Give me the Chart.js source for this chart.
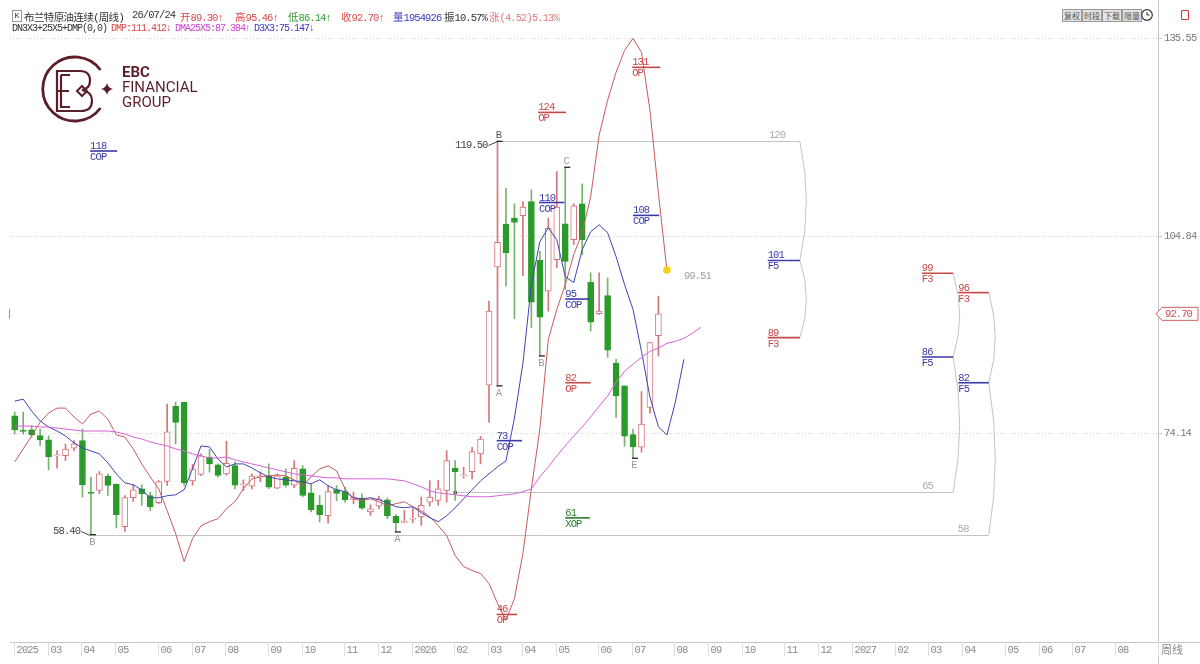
<!DOCTYPE html>
<html>
<head>
<meta charset="utf-8">
<script src="https://cdn.jsdelivr.net/npm/chart.js@4.4.1/dist/chart.umd.min.js"></script>
<style>
body{margin:0;background:#fff;}
#wrap{position:relative;width:1200px;height:664px;overflow:hidden;background:#fff;}
#c{position:absolute;left:0;top:0;}
.t{position:absolute;white-space:nowrap;font:10.5px "Liberation Mono",monospace;letter-spacing:-0.9px;line-height:13px;color:#333;}
.t.s{font-size:10px;letter-spacing:-1px;}
.t i{font:10.5px "Noto Sans CJK SC";font-style:normal;letter-spacing:0;}
.t i.n{letter-spacing:-0.6px;}
.kb{display:inline-block;width:8px;height:10px;border:1px solid #999;font-size:8px;line-height:10px;text-align:center;letter-spacing:0;}
.btn{position:absolute;top:9px;width:18px;height:11px;border:1px solid #9a9a9a;background:#e2e2e2;font:8px "Noto Sans CJK SC";line-height:11px;color:#555;text-align:center;white-space:nowrap;overflow:hidden;}
.logo{position:absolute;left:122px;color:#5b1f2b;font:15px Roboto,sans-serif;line-height:15px;}
</style>
</head>
<body>
<div id="wrap">
<canvas id="c" width="1200" height="664"></canvas>

<!-- header -->
<div class="t" style="left:12px;top:9px"><span class="kb">K</span></div>
<div class="t" style="left:24px;top:9px"><i class="n">布兰特原油连续</i>(<i class="n">周线</i>)</div>
<div class="t" style="left:132px;top:9px">26/07/24</div>
<div class="t" style="left:180px;top:9px;color:#d84a4a"><i>开</i>89.30↑</div>
<div class="t" style="left:235px;top:9px;color:#d84a4a"><i>高</i>95.46↑</div>
<div class="t" style="left:288px;top:9px;color:#2f9a2f"><i>低</i>86.14↑</div>
<div class="t" style="left:341px;top:9px;color:#d84a4a"><i>收</i>92.70↑</div>
<div class="t" style="left:393px;top:9px;color:#3a3ac0"><i>量</i>1954926</div>
<div class="t" style="left:444px;top:9px"><i>振</i>10.57%</div>
<div class="t" style="left:489px;top:9px;color:#e07a7a"><i>涨</i>(4.52)5.13%</div>
<div class="t s" style="left:12px;top:22px">DN3X3+25X5+DMP(0,0)</div>
<div class="t s" style="left:111px;top:22px;color:#d84a4a">DMP:111.412↓</div>
<div class="t s" style="left:175px;top:22px;color:#cc44cc">DMA25X5:87.384↑</div>
<div class="t s" style="left:254px;top:22px;color:#3a3ac0">D3X3:75.147↓</div>

<div class="btn" style="left:1062px">复权</div>
<div class="btn" style="left:1082px">时段</div>
<div class="btn" style="left:1102px">下载</div>
<div class="btn" style="left:1122px">限量</div>
<svg style="position:absolute;left:1140px;top:8px" width="14" height="14">
  <circle cx="7" cy="7" r="5.3" fill="none" stroke="#333" stroke-width="1.2"/>
  <path d="M7 4 V7 H9.5" fill="none" stroke="#333" stroke-width="1"/>
</svg>
<div style="position:absolute;left:1181px;top:10px;width:6px;height:8px;border:1.5px solid #d03030;border-radius:1px"></div>

<!-- logo -->
<svg style="position:absolute;left:0;top:0" width="230" height="140">
  <path d="M100.5 70 A32 32 0 1 0 100.5 108" fill="none" stroke="#5b1f2b" stroke-width="2.8"/>
  <path d="M73 71 H57 V111 H73 M57 91 H69 M61 75 H70 M61 75 V107 H70" fill="none" stroke="#5b1f2b" stroke-width="2.2"/>
  <path d="M68 71 H80 Q90 71 90 80.5 Q90 88.5 82 90 Q92 92 92 100.5 Q92 111 81 111 H68" fill="none" stroke="#5b1f2b" stroke-width="2.2"/>
  <path d="M77 91 L82 86 L87 91 L82 96 Z" fill="none" stroke="#5b1f2b" stroke-width="2"/>
  <path d="M107 83 Q108 88 113 89 Q108 90 107 95 Q106 90 101 89 Q106 88 107 83 Z" fill="#5b1f2b"/>
</svg>
<div class="logo" style="top:65px;font-weight:bold">EBC</div>
<div class="logo" style="top:80px">FINANCIAL</div>
<div class="logo" style="top:95px">GROUP</div>
</div>

<script>
// weekly candles, index 0 = 2025-02-07, last = 2026-07-24
const open  = [76.87,74.65,74.70,73.77,73.11,70.63,70.68,71.82,73.00,64.98,
               65.26,67.49,66.25,59.64,64.13,65.52,64.48,63.35,66.65,78.32,
               78.94,66.76,67.76,70.43,69.24,67.84,69.13,66.14,65.94,67.38,
               67.49,65.63,67.33,66.09,68.62,64.90,62.94,61.34,65.41,65.10,
               63.86,64.08,61.91,62.84,63.82,61.23,60.30,60.80,61.14,63.46,
               63.71,65.26,68.72,67.53,68.20,70.94,81.62,99.99,106.65,107.58,
               107.94,110.15,101.02,96.22,101.12,106.70,104.22,109.79,97.61,92.72,
               95.55,85.03,81.51,73.93,71.98,78.17,89.30];
const high  = [77.44,77.44,75.32,74.81,73.77,71.45,72.49,73.00,74.81,67.33,
               68.20,67.84,66.30,64.48,66.14,66.14,65.01,66.81,78.68,79.03,
               79.00,69.31,70.94,71.67,69.39,72.92,69.70,66.91,67.84,68.15,
               69.39,67.84,68.62,69.90,69.13,66.30,64.48,66.03,66.03,65.78,
               65.01,64.75,63.04,64.39,64.08,61.50,62.16,62.53,64.24,66.81,
               66.81,71.45,69.90,68.88,71.98,73.68,94.67,119.50,112.22,109.79,
               110.15,111.96,102.41,107.58,114.79,115.47,109.79,112.89,99.07,99.07,
               98.29,85.64,81.51,74.81,80.64,88.32,95.46];
const low   = [74.03,74.03,73.52,72.22,68.46,68.72,69.90,71.45,64.24,58.40,
               64.75,64.48,59.44,58.91,63.55,62.94,62.16,63.20,66.03,72.49,
               66.03,66.06,67.58,68.11,67.33,67.61,65.52,65.26,65.52,66.60,
               65.52,65.52,65.78,65.68,64.24,61.91,60.37,60.18,63.66,63.46,
               63.20,62.32,61.39,62.42,60.88,58.82,60.26,60.26,59.84,62.84,
               62.94,63.46,63.71,67.18,67.07,69.39,75.85,81.51,96.99,91.94,
               98.65,90.55,86.16,93.12,99.84,96.48,103.45,101.90,90.03,92.61,
               85.95,76.62,72.13,70.27,71.20,77.29,86.14];
const close = [74.70,74.42,73.88,73.11,70.52,70.78,71.71,72.49,66.14,64.82,
               67.84,66.03,61.50,64.17,65.37,64.75,62.69,66.65,74.39,75.85,
               66.45,68.62,70.63,69.39,67.61,69.47,66.09,66.22,67.49,67.49,
               65.78,67.53,66.09,68.72,64.48,62.27,61.50,65.10,64.82,63.82,
               64.24,62.53,62.42,63.97,61.29,60.26,60.41,60.95,62.94,64.24,
               65.52,69.90,68.20,67.66,71.29,73.26,93.12,103.80,102.16,106.90,
               109.28,94.51,92.19,106.03,109.28,100.86,109.48,104.22,91.42,93.12,
               87.04,79.96,73.68,72.07,75.58,88.23,92.70];

// indicator lines (DMP shifted 1 week forward, D3X3 3 weeks, DMA25X5 5 weeks)
const dmp = [69.70,71.71,73.73,75.89,77.29,78.06,78.06,76.67,75.58,77.13,
             77.60,76.36,73.88,73.57,71.71,69.39,67.38,65.52,62.12,58.55,
             54.22,57.78,59.79,60.41,60.88,62.42,63.51,65.52,67.07,67.38,
             67.53,67.69,67.53,66.91,65.99,67.38,68.62,69.08,68.31,65.52,
             63.97,63.66,63.97,63.51,62.89,63.20,63.51,62.73,62.12,61.19,
             59.79,58.25,55.15,53.45,52.83,52.36,50.81,47.72,45.09,48.49,
             55.46,65.52,74.81,88.74,93.38,97.25,101.90,105.30,110.88,120.47,
             125.89,130.23,133.63,135.49,133.32,124.34,111.41,99.51];
const d3x3 = [79.14,79.45,77.60,76.05,75.12,74.50,73.73,72.64,71.87,71.40,
              70.94,69.55,67.84,66.45,66.14,65.37,64.13,64.13,64.44,64.59,
              65.37,68.62,72.18,72.02,70.16,68.93,69.39,69.39,68.77,68.00,
              67.38,67.07,66.91,66.76,66.60,66.29,66.91,65.99,65.37,65.06,
              64.13,63.97,64.13,63.82,63.35,62.73,62.58,62.73,61.81,61.03,
              60.41,61.34,62.58,63.97,65.37,66.76,67.84,68.93,69.86,76.50,
              85.00,97.25,103.91,106.08,104.22,98.49,97.56,102.67,105.46,106.54,
              105.30,101.59,97.25,93.38,86.88,79.76,75.15,73.88,78.99,85.64];
const dma = [75.27,75.27,75.27,75.12,75.12,74.96,74.81,74.65,74.50,74.50,
             74.50,74.50,74.34,74.03,73.57,73.26,72.80,72.49,72.18,71.71,
             71.40,70.94,70.63,70.32,70.32,70.47,70.01,69.70,69.39,69.08,
             68.77,68.46,68.15,67.84,67.69,67.53,67.38,67.22,67.22,67.07,
             67.07,67.07,67.07,67.07,67.07,66.91,66.76,66.29,65.83,65.21,
             64.90,64.75,64.59,64.44,64.28,64.28,64.28,64.44,64.59,64.75,
             65.06,65.52,67.38,68.93,70.63,72.18,73.73,75.12,76.67,78.37,
             79.92,82.08,83.79,84.87,85.95,86.88,87.38,88.12,88.43,88.90,
             89.67,90.60];

// time axis: week index of the first bar of each month
const monthIdx = [0,4,8,12,17,21,25,30,34,39,43,47,52,56,60,64,69,73,78,82,86,91,95,99,104,108,112,117,121,125,130];
const monthLbl = ['2025','03','04','05','06','07','08','09','10','11','12','2026','02','03','04','05','06','07','08','09','10','11','12','2027','02','03','04','05','06','07','08'];
const yTicks = [135.55, 104.84, 74.14];
const lastClose = 92.70;

// target levels (price, tag, from week, to week)
const tagPrice = [118,124,131,110,108,95,82,73,61,46,101,89,99,96,86,82];
const tagName  = ['COP','OP','OP','COP','COP','COP','OP','COP','XOP','OP','F5','F3','F3','F3','F5','F5'];
const tagFrom  = [8.9,61.8,72.9,61.9,73.0,65.0,65.0,56.9,65.0,56.9,88.9,88.9,107.1,111.4,107.1,111.4];
const tagTo    = [12.1,65.1,76.2,64.9,76.1,67.9,68.0,59.9,67.9,59.3,92.7,92.7,110.8,115.0,110.8,115.0];

// grey reference lines and their brackets
const refPrice = [119.50, 65, 58.40];
const refFrom  = [57, 52, 8.9];
const refTo    = [92.7, 110.8, 115.0];
const refLeft  = ['119.50', '', '58.40'];
const refArcs  = [[119.50,101,89],[65,86,99],[58.40,82,96]];

// wave markers
const markIdx = [9,45,57,62,65,73,57];
const markTxt = ['B','A','A','B','C','E','B'];
const markAt  = ['low','low','low','low','high','low','high'];

const RED = '#d5767a', GREEN = '#2a9a2a', GREEN_W = '#74b56a';
const TAGCOL = {COP:'#3a3aa8', F5:'#3a3aa8', OP:'#c84848', F3:'#c84848', XOP:'#2a7a2a'};
const MONO = '10.5px "Liberation Mono"';

const up = close.map((c, i) => c >= open[i]);

function seg(ctx, x0, y0, x1, y1) {
  ctx.beginPath(); ctx.moveTo(x0, y0); ctx.lineTo(x1, y1); ctx.stroke();
}

const deco = {
  id: 'deco',
  beforeDraw(chart) {
    const {ctx, chartArea: a, scales: {x, y}} = chart;
    ctx.save();
    ctx.fillStyle = '#fff';
    ctx.fillRect(0, 0, chart.width, chart.height);
    ctx.lineWidth = 1;
    ctx.strokeStyle = '#d0d0d0';
    ctx.setLineDash([1, 2]);
    yTicks.forEach(v => {
      const yy = Math.round(y.getPixelForValue(v)) + 0.5;
      seg(ctx, a.left, yy, a.right, yy);
    });
    ctx.setLineDash([]);
    ctx.strokeStyle = '#c6c6c6';
    seg(ctx, a.right + 0.5, 0, a.right + 0.5, chart.height);
    seg(ctx, a.left, a.bottom + 0.5, chart.width, a.bottom + 0.5);
    // month separators and labels
    ctx.font = MONO;
    ctx.letterSpacing = '-0.9px';
    ctx.textBaseline = 'middle';
    monthIdx.forEach((m, k) => {
      const sx = Math.round(Math.max(x.getPixelForValue(m) - 1, a.left + 2)) + 0.5;
      ctx.strokeStyle = '#dedede';
      seg(ctx, sx, a.bottom, sx, a.bottom + 14);
      ctx.fillStyle = '#8a8a8a';
      ctx.fillText(monthLbl[k], sx + 2, a.bottom + 8);
    });
    ctx.strokeStyle = '#dedede';
    seg(ctx, a.right + 0.5, a.bottom, a.right + 0.5, a.bottom + 14);
    ctx.letterSpacing = '0px';
    ctx.font = '11px "Noto Sans CJK SC"';
    ctx.fillStyle = '#8a8a8a';
    ctx.fillText('周线', a.right + 3, a.bottom + 8);
    // right axis
    ctx.font = MONO;
    ctx.letterSpacing = '-0.9px';
    yTicks.forEach(v => {
      const yy = Math.round(y.getPixelForValue(v)) + 0.5;
      ctx.strokeStyle = '#c6c6c6';
      seg(ctx, a.right, yy, a.right + 4, yy);
      ctx.fillStyle = '#7a7a7a';
      ctx.fillText(v.toFixed(2), a.right + 6, yy);
    });
    // left edge mark at last close
    const ly = y.getPixelForValue(lastClose);
    ctx.strokeStyle = '#999';
    seg(ctx, a.left - 0.5, ly - 5, a.left - 0.5, ly + 5);
    ctx.restore();
  },
  beforeDatasetsDraw(chart) {
    const {ctx, scales: {x, y}} = chart;
    ctx.save();
    ctx.lineWidth = 1;
    ctx.font = MONO;
    ctx.letterSpacing = '-0.9px';
    refPrice.forEach((p, k) => {
      const x0 = x.getPixelForValue(refFrom[k]);
      const x1 = x.getPixelForValue(refTo[k]);
      const yy = Math.round(y.getPixelForValue(p)) + 0.5;
      ctx.strokeStyle = '#c4c4c4';
      seg(ctx, x0, yy, x1, yy);
      // bracket arcs
      const arcs = refArcs[k];
      for (let j = 0; j < arcs.length - 1; j++) {
        const ya = y.getPixelForValue(arcs[j]), yb = y.getPixelForValue(arcs[j + 1]);
        ctx.beginPath();
        ctx.moveTo(x1, ya);
        ctx.quadraticCurveTo(x1 + 13, (ya + yb) / 2, x1, yb);
        ctx.stroke();
      }
      ctx.fillStyle = '#aaaaaa';
      ctx.textBaseline = 'bottom';
      ctx.textAlign = 'left';
      ctx.fillText(String(Math.round(p)), x1 - 31, yy - 1);
      if (refLeft[k]) {
        const dy = p > 90 ? 4 : -4;
        ctx.strokeStyle = '#444';
        seg(ctx, x0 - 9, yy + dy, x0, yy);
        ctx.fillStyle = '#444';
        ctx.textAlign = 'right';
        ctx.textBaseline = 'middle';
        ctx.fillText(refLeft[k], x0 - 10, yy + dy);
      } else {
        ctx.fillStyle = '#111';
        ctx.fillRect(x0 - 1.5, yy - 1.5, 3, 3);
      }
    });
    ctx.restore();
  },
  afterDatasetsDraw(chart) {
    const {ctx, scales: {x, y}} = chart;
    ctx.save();
    ctx.font = MONO;
    ctx.letterSpacing = '-0.9px';
    ctx.textAlign = 'left';
    tagPrice.forEach((p, k) => {
      const col = TAGCOL[tagName[k]];
      const x0 = x.getPixelForValue(tagFrom[k]);
      const x1 = x.getPixelForValue(tagTo[k]);
      const yy = y.getPixelForValue(p);
      ctx.strokeStyle = col;
      ctx.lineWidth = 1.6;
      seg(ctx, x0, yy, x1, yy);
      ctx.fillStyle = col;
      ctx.textBaseline = 'alphabetic';
      ctx.fillText(String(p), x0, yy - 2);
      ctx.textBaseline = 'top';
      ctx.fillText(tagName[k], x0, yy + 1);
    });
    // wave markers
    ctx.textAlign = 'center';
    markIdx.forEach((i, k) => {
      const cx = x.getPixelForValue(i);
      const isLow = markAt[k] === 'low';
      const yy = y.getPixelForValue(isLow ? low[i] : high[i]);
      ctx.strokeStyle = '#222';
      ctx.lineWidth = 1.3;
      seg(ctx, cx - 1, yy, cx + 5, yy);
      ctx.fillStyle = isLow || i !== 57 ? '#9a9a9a' : '#555';
      ctx.textBaseline = isLow ? 'top' : 'bottom';
      ctx.fillText(markTxt[k], cx + 1, isLow ? yy + 2 : yy - 1);
    });
    // last DMP point
    const li = dmp.length - 1;
    const dx = x.getPixelForValue(li), dy = y.getPixelForValue(dmp[li]);
    ctx.fillStyle = '#f2d21a';
    ctx.beginPath(); ctx.arc(dx, dy, 3.8, 0, Math.PI * 2); ctx.fill();
    ctx.fillStyle = '#a0a0a0';
    ctx.textAlign = 'left';
    ctx.textBaseline = 'middle';
    ctx.fillText(dmp[li].toFixed(2), dx + 17, dy + 6);
    // last close tag on the right axis
    const a = chart.chartArea;
    const cy = y.getPixelForValue(lastClose);
    ctx.fillStyle = '#fff';
    ctx.strokeStyle = '#d06060';
    ctx.lineWidth = 1;
    ctx.beginPath();
    ctx.moveTo(a.right - 2, cy);
    ctx.lineTo(a.right + 4, cy - 6.5);
    ctx.lineTo(a.right + 40, cy - 6.5);
    ctx.lineTo(a.right + 40, cy + 6.5);
    ctx.lineTo(a.right + 4, cy + 6.5);
    ctx.closePath();
    ctx.fill(); ctx.stroke();
    ctx.fillStyle = '#d04848';
    ctx.fillText(lastClose.toFixed(2), a.right + 7, cy + 0.5);
    ctx.restore();
  }
};

const wickData = low.map((l, i) => ({x: i, y: [l, high[i]]}));
const bodyData = open.map((o, i) => ({x: i, y: [o, close[i]]}));
const toXY = arr => arr.map((v, i) => ({x: i, y: v}));

new Chart(document.getElementById('c'), {
  type: 'bar',
  data: {
    datasets: [
      {
        type: 'bar', data: wickData, order: 3, grouped: false,
        barThickness: 1, backgroundColor: up.map(u => u ? RED : GREEN_W)
      },
      {
        type: 'bar', data: bodyData, order: 2, grouped: false,
        barThickness: 6, minBarLength: 1, borderSkipped: false, borderWidth: 1,
        backgroundColor: up.map(u => u ? '#ffffff' : GREEN),
        borderColor: up.map(u => u ? RED : GREEN)
      },
      {type: 'line', data: toXY(dma), order: 1, borderColor: '#d862d8', borderWidth: 1, pointRadius: 0},
      {type: 'line', data: toXY(d3x3), order: 1, borderColor: '#4242b4', borderWidth: 1, pointRadius: 0},
      {type: 'line', data: toXY(dmp), order: 1, borderColor: '#c95a5c', borderWidth: 1, pointRadius: 0}
    ]
  },
  options: {
    responsive: false,
    animation: false,
    devicePixelRatio: 1,
    events: [],
    layout: {padding: {left: 10, right: 42, top: 30, bottom: 22}},
    plugins: {legend: {display: false}, tooltip: {enabled: false}},
    scales: {
      x: {type: 'linear', offset: false, min: -0.555, max: 134.98, display: false},
      y: {type: 'linear', min: 41.72, max: 136.80, display: false}
    }
  },
  plugins: [deco]
});
</script>
</body>
</html>
